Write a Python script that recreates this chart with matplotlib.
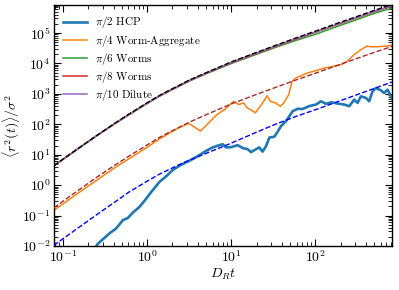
import numpy as np
import matplotlib
matplotlib.use("Agg")
import matplotlib.pyplot as plt
from matplotlib.ticker import LogLocator, FuncFormatter, NullFormatter

plt.rcParams['mathtext.fontset'] = 'cm'
plt.rcParams['font.family'] = ['DejaVu Serif']

# ---- data ----
# theory / smooth curves on a common time grid (D_R t)
t_grid = [0.0778, 0.12, 0.169, 0.25, 0.421, 0.6, 1.0, 1.4, 1.84, 2.4, 3.13, 5.0,
          10.0, 20.0, 33.5, 60.0, 100.0, 180.0, 300.0, 500.0, 815.0]
black_theory = [4.4, 10.2, 20, 42, 112, 212, 510, 880, 1320, 1900, 2800, 4900,
                11200, 23000, 39000, 70000, 115000, 205000, 335000, 550000, 870000]
brown_theory = [0.18, 0.43, 0.83, 1.8, 4.7, 8.8, 21, 37, 55, 79, 115, 205,
                465, 960, 1620, 2900, 4750, 8500, 14000, 23000, 36000]
blue_theory = [0.0105, 0.025, 0.049, 0.106, 0.29, 0.58, 1.35, 2.3, 3.3, 4.7, 6.5, 11,
               24, 55, 100, 185, 300, 540, 900, 1500, 2450]
pi6_worms = [4.3, 10.1, 19.5, 41.5, 108, 200, 482, 835, 1235, 1780, 2580, 4550,
             9900, 20000, 33500, 58000, 90000, 163000, 265000, 440000, 660000]
pi8_worms = [4.3, 10.1, 19.6, 42, 109, 203, 490, 850, 1260, 1820, 2650, 4700,
             10400, 21300, 36000, 64000, 105000, 187000, 305000, 500000, 770000]
pi10_dilute = [4.3, 10.1, 19.6, 42, 110, 205, 495, 860, 1280, 1850, 2700, 4800,
               10700, 22000, 37000, 66000, 108000, 192000, 312000, 510000, 790000]

# pi/4 worm-aggregate (noisy)
t_pi4 = [0.0778, 0.169, 0.421, 1.0, 1.376, 2.378, 3.126, 3.752, 4.302, 5.404, 6.787,
         8.525, 10.71, 12.28, 14.08, 15.42, 16.89, 19.37, 24.33, 26.66, 29.20, 33.48,
         38.39, 42.06, 48.23, 52.83, 57.87, 79.62, 125.6, 198.2, 237.8, 285.4, 342.4,
         411.1, 450.3, 540.4, 710.2, 814.7]
msd_pi4 = [0.15, 0.68, 3.9, 17.5, 32, 77, 107, 77, 60, 112, 210, 320,
           570, 444, 503, 346, 305, 238, 570, 870, 570, 503,
           392, 503, 939, 2550, 3280, 4770, 6940, 8910, 11450, 18900, 27500,
           37100, 35300, 35300, 37100, 40000]

# pi/2 HCP (noisy)
t_pi2 = [0.245, 0.259, 0.356, 0.428, 0.513, 0.588, 0.675, 0.810, 0.973, 1.116, 1.400,
         1.681, 2.015, 2.420, 2.906, 3.483, 4.182, 5.022, 6.016, 7.225, 7.911, 8.68,
         9.95, 11.92, 13.67, 15.67, 17.2, 19.73, 21.6, 23.6, 25.9, 28.4, 32.5, 35.6,
         39.1, 44.8, 49.1, 53.7, 61.5, 70.6, 84.8, 101.8, 116.7, 133.9, 153.5, 183.8,
         220.6, 253.1, 290.1, 317.8, 348.6, 399.8, 437.4, 479.0, 525.5, 602.6, 659.7,
         722.0, 793.0, 828.0]
msd_pi2 = [0.0095, 0.0118, 0.0259, 0.0378, 0.0703, 0.083, 0.125, 0.192, 0.358, 0.592, 1.28,
           1.94, 3.15, 4.35, 5.61, 7.19, 9.70, 13.4, 17.3, 20.6, 22.1, 17.3,
           17.7, 20.6, 16.6, 15.2, 12.2, 15.2, 17.3, 12.6, 19.1, 36.6, 38.9, 56.5,
           87.3, 127, 185, 269, 322, 318, 397, 445, 570, 469, 528, 480,
           445, 392, 647, 506, 829, 735, 570, 1206, 1556, 1300, 1069,
           1371, 829, 647]

labels = [r'$\pi/2\ \mathrm{HCP}$', r'$\pi/4\ \mathrm{Worm\text{-}Aggregate}$',
          r'$\pi/6\ \mathrm{Worms}$', r'$\pi/8\ \mathrm{Worms}$', r'$\pi/10\ \mathrm{Dilute}$']

fig = plt.figure(figsize=(3.99, 2.90), dpi=100)
ax = fig.add_axes([0.1353, 0.1517, 0.847, 0.831])

ax.plot(t_pi2, msd_pi2, color='#1f77b4', lw=1.9, label=labels[0], zorder=2)
ax.plot(t_pi4, msd_pi4, color='#ff7f0e', lw=1.1, label=labels[1], zorder=2)
ax.plot(t_grid, pi6_worms, color='#2ca02c', lw=1.1, label=labels[2], zorder=2)
ax.plot(t_grid, pi8_worms, color='#d62728', lw=1.1, label=labels[3], zorder=2)
ax.plot(t_grid, pi10_dilute, color='#9467bd', lw=1.1, label=labels[4], zorder=2)

ax.plot(t_grid, black_theory, color='black', ls='--', lw=1.0, zorder=3)
ax.plot(t_grid, brown_theory, color='brown', ls='--', lw=1.0, zorder=3)
ax.plot(t_grid, blue_theory, color='blue', ls='--', lw=1.0, zorder=3)

ax.set_xscale('log')
ax.set_yscale('log')
ax.set_xlim(0.078, 815)
ax.set_ylim(1e-2, 8.3e5)

fmt = FuncFormatter(lambda v, p: r'$10^{%d}$' % int(round(np.log10(v))))
ax.xaxis.set_major_locator(LogLocator(base=10, numticks=20))
ax.yaxis.set_major_locator(LogLocator(base=10, numticks=20))
ax.xaxis.set_minor_locator(LogLocator(base=10, subs=np.arange(2, 10), numticks=20))
ax.yaxis.set_minor_locator(LogLocator(base=10, subs=np.arange(2, 10), numticks=20))
ax.xaxis.set_major_formatter(fmt)
ax.yaxis.set_major_formatter(fmt)
ax.xaxis.set_minor_formatter(NullFormatter())
ax.yaxis.set_minor_formatter(NullFormatter())

ax.tick_params(which='both', direction='in', top=True, right=True, labelsize=10, pad=2.5)
ax.tick_params(which='major', length=5, width=0.8)
ax.tick_params(which='minor', length=2.8, width=0.6)
for s in ax.spines.values():
    s.set_linewidth(1.0)

ax.set_xlabel(r'$D_R t$', fontsize=10, labelpad=1)
ax.set_ylabel(r'$\langle r^2(t)\rangle/\sigma^2$', fontsize=10)
ax.yaxis.set_label_coords(-0.096, 0.5)

ax.legend(loc='upper left', frameon=False, fontsize=8, handlelength=2.1,
          handletextpad=0.75, labelspacing=0.2, borderaxespad=0.45)

fig.savefig('out.png', dpi=100)
